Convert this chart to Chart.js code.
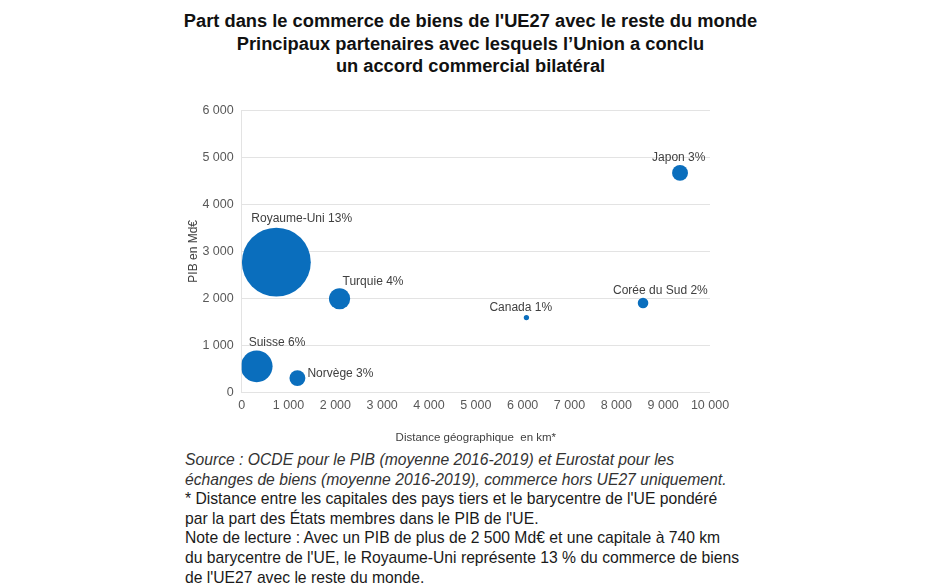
<!DOCTYPE html>
<html>
<head>
<meta charset="utf-8">
<script src="https://cdn.jsdelivr.net/npm/chart.js@4/dist/chart.umd.min.js"></script>
<style>
  body { margin: 0; background: #fff; font-family: "Liberation Sans", Arial, sans-serif; }
  #wrap { position: relative; width: 941px; height: 588px; overflow: hidden; }
  #titre { position: absolute; top: 10px; left: 0; width: 941px; text-align: center;
           font-weight: bold; font-size: 18.3px; line-height: 22.5px; color: #111; }
  #graph { position: absolute; top: 76px; left: 0; width: 941px; height: 373px; }
  #note { position: absolute; top: 450px; left: 185px; width: 600px;
          font-size: 15.7px; line-height: 19.6px; color: #1a1a1a; white-space: nowrap; }
  #note i { color: #333; }
</style>
</head>
<body>
<div id="wrap">
  <div id="titre">Part dans le commerce de biens de l'UE27 avec le reste du monde<br>Principaux partenaires avec lesquels l’Union a conclu<br>un accord commercial bilatéral</div>
  <div id="graph"><canvas id="c"></canvas></div>
  <div id="note">
    <i>Source : OCDE pour le PIB (moyenne 2016-2019) et Eurostat pour les<br>échanges de biens (moyenne 2016-2019), commerce hors UE27 uniquement.</i><br>
    * Distance entre les capitales des pays tiers et le barycentre de l'UE pondéré<br>
    par la part des États membres dans le PIB de l'UE.<br>
    Note de lecture : Avec un PIB de plus de 2 500 Md€ et une capitale à 740 km<br>
    du barycentre de l'UE, le Royaume-Uni représente 13 % du commerce de biens<br>
    de l'UE27 avec le reste du monde.
  </div>
</div>
<script>
// pays, distance (km), PIB (Md€), part du commerce (%)
const pays = ['Royaume-Uni', 'Turquie', 'Canada', 'Corée du Sud', 'Japon', 'Suisse', 'Norvège'];
const distance = [740, 2090, 6080, 8570, 9360, 320, 1190];
const pib = [2770, 1990, 1590, 1900, 4670, 550, 300];
const part = [13, 4, 1, 2, 3, 6, 3];
const xTicks = [0, 1000, 2000, 3000, 4000, 5000, 6000, 7000, 8000, 9000, 10000];
const yTicks = [0, 1000, 2000, 3000, 4000, 5000, 6000];

// décalage des étiquettes par rapport au centre de la bulle
const labelOffsets = [[-25, -43], [3, -17], [-37, -10], [-30, -12], [-28, -15], [-8, -24], [10, -4]];

const fmt = v => v.toLocaleString('fr-FR').replace(/\u202f|\u00a0/g, ' ');

const etiquettes = {
  id: 'etiquettes',
  afterDatasetsDraw(chart) {
    const ctx = chart.ctx;
    const meta = chart.getDatasetMeta(0);
    ctx.save();
    ctx.font = '12px "Liberation Sans", Arial, sans-serif';
    ctx.fillStyle = '#404040';
    ctx.textAlign = 'left';
    ctx.textBaseline = 'middle';
    meta.data.forEach((pt, i) => {
      const o = labelOffsets[i];
      ctx.fillText(pays[i] + ' ' + part[i] + '%', pt.x + o[0], pt.y + o[1]);
    });
    ctx.restore();
  }
};

new Chart(document.getElementById('c'), {
  type: 'bubble',
  data: {
    datasets: [{
      label: 'Part',
      data: pays.map((p, i) => ({ x: distance[i], y: pib[i], r: part[i] * 2.65 })),
      backgroundColor: '#0a6ebd',
      borderColor: '#0a6ebd',
      borderWidth: 0,
      hoverRadius: 0
    }]
  },
  options: {
    responsive: true,
    maintainAspectRatio: false,
    animation: false,
    events: [],
    layout: { padding: { left: 184, right: 231, top: 0, bottom: 0 } },
    plugins: {
      legend: { display: false },
      tooltip: { enabled: false }
    },
    scales: {
      x: {
        type: 'linear',
        min: 0, max: 10000,
        afterBuildTicks: s => { s.ticks = xTicks.map(v => ({ value: v })); },
        ticks: { callback: fmt, color: '#595959', font: { size: 12.5, family: '"Liberation Sans", Arial' }, padding: 6, maxRotation: 0 },
        grid: { display: false, drawTicks: false },
        border: { display: false },
        title: { display: true, text: 'Distance géographique  en km*', color: '#404040',
                 font: { size: 11.5, family: '"Liberation Sans", Arial' }, padding: { top: 12 } }
      },
      y: {
        type: 'linear',
        min: 0, max: 6000,
        afterBuildTicks: s => { s.ticks = yTicks.map(v => ({ value: v })); },
        ticks: { callback: fmt, color: '#595959', font: { size: 12.5, family: '"Liberation Sans", Arial' }, padding: 8 },
        grid: { color: '#e3e3e3', drawTicks: false },
        border: { display: true, color: '#e3e3e3' },
        title: { display: true, text: 'PIB en Md€', color: '#404040',
                 font: { size: 12, family: '"Liberation Sans", Arial' }, padding: { top: 2, bottom: -6 } }
      }
    }
  },
  plugins: [etiquettes]
});
</script>
</body>
</html>
